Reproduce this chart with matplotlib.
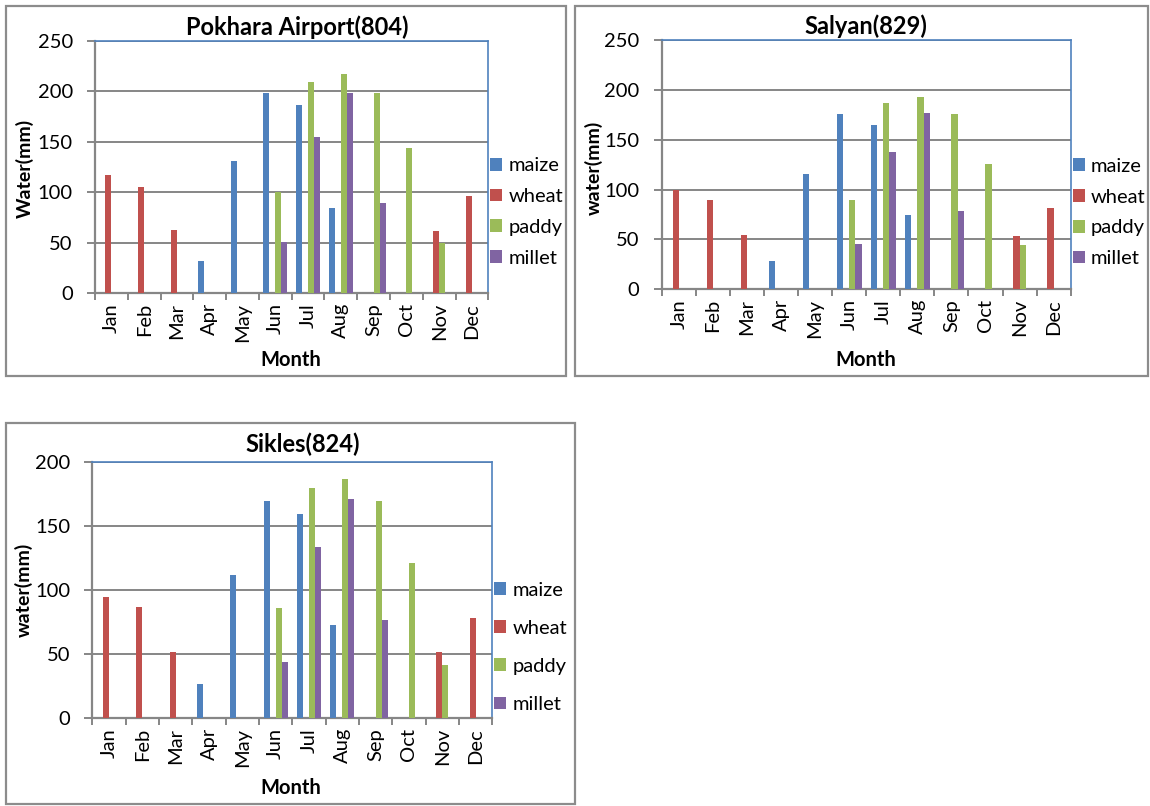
import numpy as np
import matplotlib
matplotlib.use("Agg")
import matplotlib.pyplot as plt
from matplotlib.patches import Rectangle

plt.rcParams['font.family'] = ['Lato', 'DejaVu Sans']

W, H = 1150, 806

months = ['Jan', 'Feb', 'Mar', 'Apr', 'May', 'Jun', 'Jul', 'Aug', 'Sep', 'Oct', 'Nov', 'Dec']
crops = ['maize', 'wheat', 'paddy', 'millet']
colors = ['#4F81BD', '#C0504D', '#9BBB59', '#8064A2']

# water requirement (mm) per month for each station
pokhara_maize = [0, 0, 0, 32, 131, 198, 186, 84, 0, 0, 0, 0]
pokhara_wheat = [117, 105, 63, 0, 0, 0, 0, 0, 0, 0, 62, 96]
pokhara_paddy = [0, 0, 0, 0, 0, 100, 209, 217, 198, 144, 50, 0]
pokhara_millet = [0, 0, 0, 0, 0, 51, 155, 198, 89, 0, 0, 0]

salyan_maize = [0, 0, 0, 28, 116, 176, 165, 75, 0, 0, 0, 0]
salyan_wheat = [100, 90, 54, 0, 0, 0, 0, 0, 0, 0, 53, 82]
salyan_paddy = [0, 0, 0, 0, 0, 90, 187, 193, 176, 126, 44, 0]
salyan_millet = [0, 0, 0, 0, 0, 45, 138, 177, 79, 0, 0, 0]

sikles_maize = [0, 0, 0, 27, 112, 170, 160, 73, 0, 0, 0, 0]
sikles_wheat = [95, 87, 52, 0, 0, 0, 0, 0, 0, 0, 52, 78]
sikles_paddy = [0, 0, 0, 0, 0, 86, 180, 187, 170, 121, 42, 0]
sikles_millet = [0, 0, 0, 0, 0, 44, 134, 171, 77, 0, 0, 0]

GRID = '#868686'
BLUE_EDGE = '#4F81BD'
FS = 14.5

fig = plt.figure(figsize=(W / 100, H / 100), dpi=100)


def px_box(x0, y0, x1, y1):
    return [x0 / W, 1 - y1 / H, (x1 - x0) / W, (y1 - y0) / H]


def frame(x0, y0, x1, y1):
    fig.patches.append(Rectangle((x0 / W, 1 - y1 / H), (x1 - x0) / W, (y1 - y0) / H,
                                 transform=fig.transFigure, fill=False,
                                 edgecolor='#8C8C8C', linewidth=1.6))


def panel(box, series, title, ylab, ymax, title_xy, ylab_xy, month_xy, leg_y, leg_space):
    ax = fig.add_axes(px_box(*box))
    x = np.arange(len(months))
    w = 1 / 5.5
    for i, vals in enumerate(series):
        ax.bar(x + (i - 1.5) * w, vals, width=w, color=colors[i],
               linewidth=0, label=crops[i], zorder=3)
    ax.set_xlim(-0.5, 11.5)
    ax.set_ylim(0, ymax)
    ax.set_yticks(np.arange(0, ymax + 1, 50))
    ax.yaxis.grid(True, color=GRID, linewidth=1.4, zorder=0)
    ax.set_axisbelow(True)
    # category boundaries as major ticks, month names on minor ticks
    ax.set_xticks(np.arange(-0.5, 12, 1))
    ax.set_xticklabels([])
    ax.set_xticks(x, minor=True)
    ax.set_xticklabels(months, minor=True, rotation=90, fontsize=FS)
    ax.tick_params(axis='x', which='minor', length=0, pad=7)
    ax.tick_params(axis='x', which='major', length=5, width=1.4, color=GRID)
    ax.tick_params(axis='y', length=6, width=1.4, color=GRID, labelsize=FS, pad=10)
    for s in ('left', 'bottom'):
        ax.spines[s].set_color(GRID)
        ax.spines[s].set_linewidth(1.6)
    for s in ('top', 'right'):
        ax.spines[s].set_color(BLUE_EDGE)
        ax.spines[s].set_linewidth(1.2)
    ax.legend(loc='center left', bbox_to_anchor=(1.0, leg_y), frameon=False,
              fontsize=14.5, handlelength=0.6, handleheight=0.6,
              handletextpad=0.3, borderpad=0, borderaxespad=0.1,
              labelspacing=leg_space)
    fig.text(title_xy[0] / W, 1 - title_xy[1] / H, title, ha='center', va='center',
             fontsize=17, fontweight='bold')
    fig.text(ylab_xy[0] / W, 1 - ylab_xy[1] / H, ylab, ha='center', va='center',
             rotation=90, fontsize=14, fontweight='bold')
    fig.text(month_xy[0] / W, 1 - month_xy[1] / H, 'Month', ha='center', va='center',
             fontsize=14.5, fontweight='bold')
    return ax


frame(6, 6, 566, 376)
frame(575, 6, 1148, 376)
frame(6, 423, 575, 804)

panel((95, 40.7, 488.3, 293.3),
      [pokhara_maize, pokhara_wheat, pokhara_paddy, pokhara_millet],
      'Pokhara Airport(804)', 'Water(mm)', 250,
      (297, 27), (25, 168), (291, 360), 0.322, 0.68)

panel((661.7, 40, 1070.7, 289.3),
      [salyan_maize, salyan_wheat, salyan_paddy, salyan_millet],
      'Salyan(829)', 'water(mm)', 250,
      (866, 26), (594, 168), (866, 360), 0.308, 0.68)

panel((92.3, 462.3, 492.3, 718.3),
      [sikles_maize, sikles_wheat, sikles_paddy, sikles_millet],
      'Sikles(824)', 'water(mm)', 200,
      (303, 444), (24, 590), (291, 788), 0.277, 1.05)

fig.savefig('out.png', dpi=100)
